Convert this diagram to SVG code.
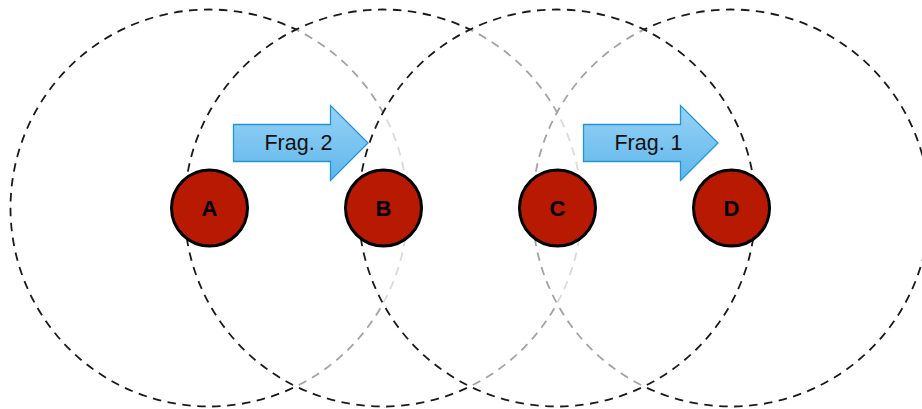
<svg xmlns="http://www.w3.org/2000/svg" width="922" height="409" viewBox="0 0 922 409">
<defs>
<linearGradient id="blue" x1="0" y1="0" x2="0" y2="1">
<stop offset="0" stop-color="#97d3f7"/>
<stop offset="1" stop-color="#5fb6ea"/>
</linearGradient>
<style>
.range{fill:#fff;fill-opacity:0.6;stroke:#1a1a1a;stroke-width:1.8;stroke-dasharray:8.5 6.5}
.node circle{fill:#b71a00;stroke:#000;stroke-width:3}
.node text{font-family:"Liberation Sans",Arial,sans-serif;font-weight:bold;font-size:22px;fill:#000;text-anchor:middle}
.arrow path{fill:url(#blue);stroke:#2196d6;stroke-width:1.3}
.arrow text{font-family:"Liberation Sans",Arial,sans-serif;font-size:21.5px;fill:#111;text-anchor:middle}
</style>
</defs>
<rect width="922" height="409" fill="#fff"/>
<g id="ranges">
<circle class="range" cx="209" cy="208" r="198.5"/>
<circle class="range" cx="383" cy="208" r="198.5"/>
<circle class="range" cx="731" cy="208" r="198.5"/>
<circle class="range" cx="557" cy="208" r="198.5"/>
</g>
<g id="connectors">
<g id="frag2" class="arrow">
<path d="M233.5,124.5 H330.5 V105.5 L368,143 L330.5,180.5 V161.5 H233.5 Z"/>
<text x="298.5" y="150">Frag. 2</text>
</g>
<g id="frag1" class="arrow">
<path d="M583.5,124.5 H680.5 V105.5 L718,143 L680.5,180.5 V161.5 H583.5 Z"/>
<text x="648.5" y="150">Frag. 1</text>
</g>
</g>
<g id="nodeA" class="node"><circle cx="209.5" cy="208" r="38"/><text x="209.5" y="216">A</text></g>
<g id="nodeB" class="node"><circle cx="383.5" cy="208" r="38"/><text x="383.5" y="216">B</text></g>
<g id="nodeC" class="node"><circle cx="557.5" cy="208" r="38"/><text x="557.5" y="216">C</text></g>
<g id="nodeD" class="node"><circle cx="731.5" cy="208" r="38"/><text x="731.5" y="216">D</text></g>
</svg>
